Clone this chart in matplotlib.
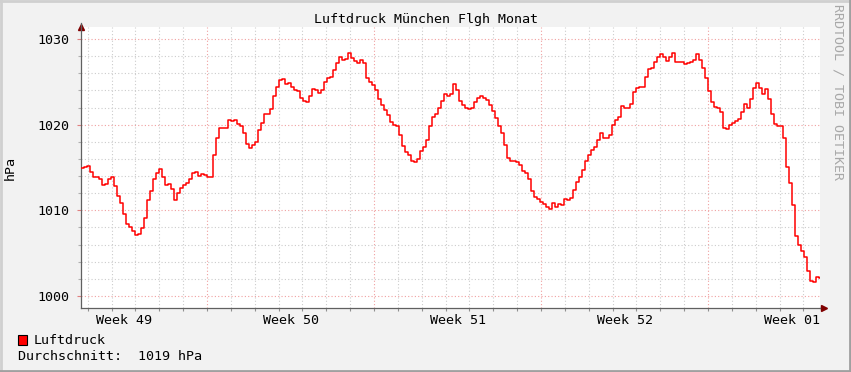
import numpy as np
import matplotlib
matplotlib.use("Agg")
import matplotlib.pyplot as plt
from matplotlib.lines import Line2D

# pressure in hPa, one value every ~3 hours, first value at hour 41 after Monday 00:00 of week 49
start_hour = 41.2
step_hours = 3.02
pressure = [
    1014.9, 1015.1, 1015.2, 1014.5, 1013.9, 1013.85, 1013.7, 1012.95, 1013.1, 1013.7,
    1013.85, 1012.8, 1011.7, 1010.8, 1009.6, 1008.4, 1008.0, 1007.6, 1007.1, 1007.25,
    1007.9, 1009.1, 1011.2, 1012.3, 1013.6, 1014.4, 1014.8, 1013.9, 1012.9, 1013.1,
    1012.5, 1011.2, 1012.0, 1012.6, 1012.9, 1013.2, 1013.7, 1014.3, 1014.5, 1014.0,
    1014.2, 1014.1, 1013.85, 1013.9, 1016.5, 1018.5, 1019.6, 1019.6, 1019.6, 1020.5,
    1020.4, 1020.5, 1020.1, 1019.8, 1019.0, 1017.8, 1017.3, 1017.6, 1018.0, 1019.4,
    1020.2, 1021.2, 1021.3, 1021.8, 1023.3, 1024.4, 1025.2, 1025.3, 1024.7, 1024.9,
    1024.4, 1024.0, 1023.9, 1023.1, 1022.75, 1022.6, 1023.4, 1024.2, 1024.0, 1023.7,
    1024.0, 1025.0, 1025.5, 1025.6, 1026.4, 1027.2, 1027.85, 1027.5, 1027.7, 1028.4,
    1027.8, 1027.4, 1027.25, 1027.6, 1027.2, 1025.4, 1025.0, 1024.6, 1024.0, 1023.0,
    1022.3, 1021.7, 1021.1, 1020.3, 1020.0, 1019.8, 1018.8, 1017.5, 1016.8, 1016.5,
    1015.8, 1015.6, 1016.0, 1016.9, 1017.4, 1018.2, 1019.9, 1020.9, 1021.3, 1021.9,
    1022.8, 1023.6, 1023.4, 1023.6, 1024.8, 1024.0, 1022.8, 1022.3, 1022.0, 1021.8,
    1022.0, 1022.6, 1023.1, 1023.4, 1023.1, 1022.9, 1022.3, 1021.6, 1020.8, 1019.8,
    1019.0, 1017.6, 1016.1, 1015.8, 1015.8, 1015.6, 1015.3, 1014.6, 1014.3, 1013.6,
    1012.3, 1011.6, 1011.3, 1011.0, 1010.7, 1010.4, 1010.2, 1010.9, 1010.4, 1010.7,
    1010.6, 1011.3, 1011.2, 1011.4, 1012.4, 1013.3, 1013.9, 1014.7, 1015.8, 1016.5,
    1017.0, 1017.4, 1018.2, 1019.0, 1018.5, 1018.5, 1018.8, 1020.0, 1020.6, 1020.9,
    1022.2, 1021.9, 1021.9, 1022.4, 1023.8, 1024.3, 1024.4, 1024.4, 1025.6, 1026.5,
    1026.6, 1027.3, 1027.9, 1028.3, 1027.9, 1027.4, 1027.9, 1028.4, 1027.35, 1027.3,
    1027.3, 1027.05, 1027.15, 1027.35, 1027.6, 1028.2, 1027.6, 1026.6, 1025.5, 1023.9,
    1022.7, 1022.1, 1021.9, 1021.5, 1019.6, 1019.45, 1020.0, 1020.15, 1020.4, 1020.7,
    1021.5, 1022.4, 1022.0, 1023.0, 1024.3, 1024.9, 1024.3, 1023.6, 1024.2, 1023.0,
    1021.2, 1020.1, 1019.8, 1019.9, 1018.4, 1015.1, 1013.2, 1010.6, 1007.0, 1005.9,
    1005.3, 1004.5, 1002.9, 1001.7, 1001.6, 1002.25, 1002.1,
]

week_labels = ["Week 49", "Week 50", "Week 51", "Week 52", "Week 01"]
y_labels = [1000, 1010, 1020, 1030]
series_name = "Luftdruck"
average_value = 1019
title = "Luftdruck München Flgh Monat"

W, H = 851, 372
fig = plt.figure(figsize=(W / 100, H / 100), dpi=100, facecolor="#f2f2f2")

# plot area in pixels
left, right, top, bottom = 81, 820, 27, 308
ax = fig.add_axes([left / W, 1 - bottom / H, (right - left) / W, (bottom - top) / H])
ax.set_facecolor("white")

px_per_hour = 167 / 168
x_min = start_hour
x_max = start_hour + (right - left) / px_per_hour
y_min = 1000 - (bottom - 296) / 8.57
y_max = 1030 + (39 - top) / 8.57
ax.set_xlim(x_min, x_max)
ax.set_ylim(y_min, y_max)

# grid
for d in range(0, 34):
    h = d * 24
    if x_min < h < x_max:
        if d % 7 == 0:
            ax.axvline(h, color="#f0a0a0", lw=0.8, ls=(0, (1, 2)), zorder=1)
        else:
            ax.axvline(h, color="#cccccc", lw=0.8, ls=(0, (1, 2)), zorder=1)
for v in range(1000, 1032, 2):
    if v % 10 == 0:
        ax.axhline(v, color="#f0a0a0", lw=0.8, ls=(0, (1, 2)), zorder=1)
    else:
        ax.axhline(v, color="#cccccc", lw=0.8, ls=(0, (1, 2)), zorder=1)

hours = start_hour + step_hours * np.arange(len(pressure))
hours = np.append(hours, x_max)
vals = np.append(pressure, pressure[-1])
ax.plot(hours, vals, drawstyle="steps-post", color="#ff0000", lw=1.1, zorder=3)

mono = "DejaVu Sans Mono"
fs = 9.6

for s in ["top", "right"]:
    ax.spines[s].set_visible(False)
for s in ["left", "bottom"]:
    ax.spines[s].set_color("#606060")
    ax.spines[s].set_linewidth(0.9)

ax.set_yticks(y_labels, [str(v) for v in y_labels], fontfamily=mono, fontsize=fs)
ax.set_yticks(range(1000, 1032, 2), minor=True)
ax.tick_params(axis="y", which="major", length=3, width=0.8, color="#e08080", pad=5)
ax.tick_params(axis="y", which="minor", length=2, width=0.8, color="#b0b0b0")

week_centers = [84 + 168 * i for i in range(len(week_labels))]
ax.set_xticks(week_centers, week_labels, fontfamily=mono, fontsize=fs)
ax.set_xticks([d * 24 for d in range(2, 33)], minor=True)
ax.tick_params(axis="x", which="major", length=0, pad=4)
ax.tick_params(axis="x", which="minor", length=2, width=0.8, color="#909090")

# axis arrows
ax.plot([0], [1.0], marker="^", color="#800000", markersize=4, transform=ax.transAxes, clip_on=False)
ax.plot([0, 0], [1.0, 1.015], color="#606060", lw=0.9, transform=ax.transAxes, clip_on=False)
ax.plot([1.0, 1.004], [0, 0], color="#606060", lw=0.9, transform=ax.transAxes, clip_on=False)
ax.plot([1.006], [0], marker=">", color="#800000", markersize=4, transform=ax.transAxes, clip_on=False)

ax.set_ylabel("hPa", fontfamily=mono, fontsize=fs, labelpad=15)

fig.text(425.5 / W, 1 - 19 / H, title, ha="center", va="center", fontfamily=mono, fontsize=fs)
fig.text(838 / W, 1 - 92 / H, "RRDTOOL / TOBI OETIKER", rotation=-90, ha="center", va="center",
         fontfamily=mono, fontsize=fs, color="#a8a8a8")

# legend
fig.patches.append(plt.Rectangle((18 / W, 1 - 345 / H), 9 / W, 10 / H, transform=fig.transFigure,
                                 facecolor="#ff0000", edgecolor="black", lw=0.8))
fig.text(34 / W, 1 - 340 / H, series_name, ha="left", va="center", fontfamily=mono, fontsize=fs)
fig.text(18 / W, 1 - 356 / H, f"Durchschnitt:  {average_value} hPa", ha="left", va="center",
         fontfamily=mono, fontsize=fs)

# border shading
fig.lines.append(Line2D([0, 1], [1 - 1 / H, 1 - 1 / H], transform=fig.transFigure, color="#d0d0d0", lw=2))
fig.lines.append(Line2D([1 / W, 1 / W], [0, 1], transform=fig.transFigure, color="#d0d0d0", lw=2))
fig.lines.append(Line2D([0, 1], [1.5 / H, 1.5 / H], transform=fig.transFigure, color="#a0a0a0", lw=2))
fig.lines.append(Line2D([1 - 1.5 / W, 1 - 1.5 / W], [0, 1], transform=fig.transFigure, color="#a0a0a0", lw=2))

fig.savefig("out.png", dpi=100, facecolor=fig.get_facecolor())
